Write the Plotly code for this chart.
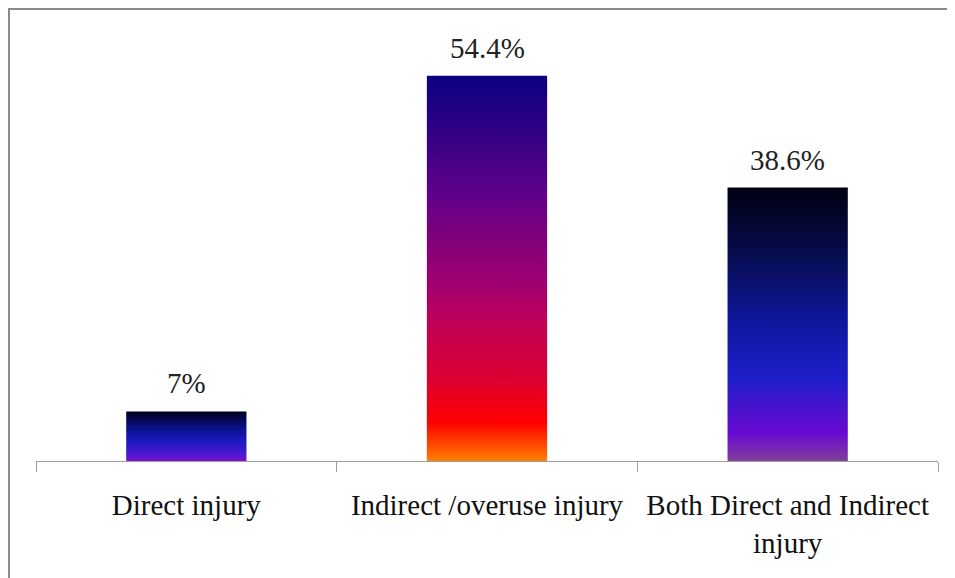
import plotly.graph_objects as go

# data
categories = ["Direct injury", "Indirect /overuse injury", "Both Direct and Indirect<br>injury"]
values = [7.0, 54.4, 38.6]
value_labels = ["7%", "54.4%", "38.6%"]

# gradient per bar, bottom (0) -> top (1)
gradients = [
    [[0.0, "#7a10d0"], [0.15, "#4a18d0"], [0.4, "#1a1ac0"], [0.7, "#0a1080"], [1.0, "#00001a"]],
    [[0.0, "#ff8000"], [0.1, "#ff0000"], [0.21, "#dc0030"], [0.36, "#c00058"], [0.46, "#a00070"],
     [0.6, "#7a007e"], [0.69, "#60008a"], [0.82, "#3a0085"], [1.0, "#0a0080"]],
    [[0.0, "#80409a"], [0.1, "#6a0ad2"], [0.3, "#1e1ec8"], [0.5, "#0f18a0"], [0.75, "#060c50"],
     [1.0, "#000010"]],
]

bar_width = 0.4
font = "Liberation Serif"

fig = go.Figure()
for i, (val, grad) in enumerate(zip(values, gradients)):
    x0, x1 = i - bar_width / 2, i + bar_width / 2
    fig.add_trace(go.Scatter(
        x=[x0, x1, x1, x0, x0], y=[0, 0, val, val, 0],
        mode="lines", line=dict(width=0), fill="toself",
        fillgradient=dict(type="vertical", colorscale=grad),
        hoverinfo="skip", showlegend=False,
    ))
    fig.add_annotation(
        x=i, y=val, text=value_labels[i], showarrow=False,
        yanchor="bottom", yshift=10, font=dict(family=font, size=29, color="#222222"),
    )

# outer border (only top/left visible in the frame)
fig.add_shape(type="rect", xref="paper", yref="paper",
              x0=-0.0299, x1=1.05, y0=-0.35, y1=1.0635,
              line=dict(color="#8a8a8a", width=2), layer="above")

fig.update_layout(
    width=955, height=578,
    margin=dict(l=28, r=25, t=28, b=125),
    plot_bgcolor="white", paper_bgcolor="white",
    xaxis=dict(
        range=[-0.5, 2.5], tickvals=[0, 1, 2], ticktext=categories,
        ticks="", showgrid=False, zeroline=False,
        showline=True, linecolor="#a0a0a0", linewidth=1,
        tickfont=dict(family=font, size=29, color="#111111"),
        ticklabelstandoff=18,
        minor=dict(tick0=-0.5, dtick=1, ticks="outside", ticklen=10,
                   tickcolor="#a0a0a0", tickwidth=1, showgrid=False),
    ),
    yaxis=dict(range=[0, 60], visible=False, showgrid=False, zeroline=False),
)

fig.write_html("out.html")
